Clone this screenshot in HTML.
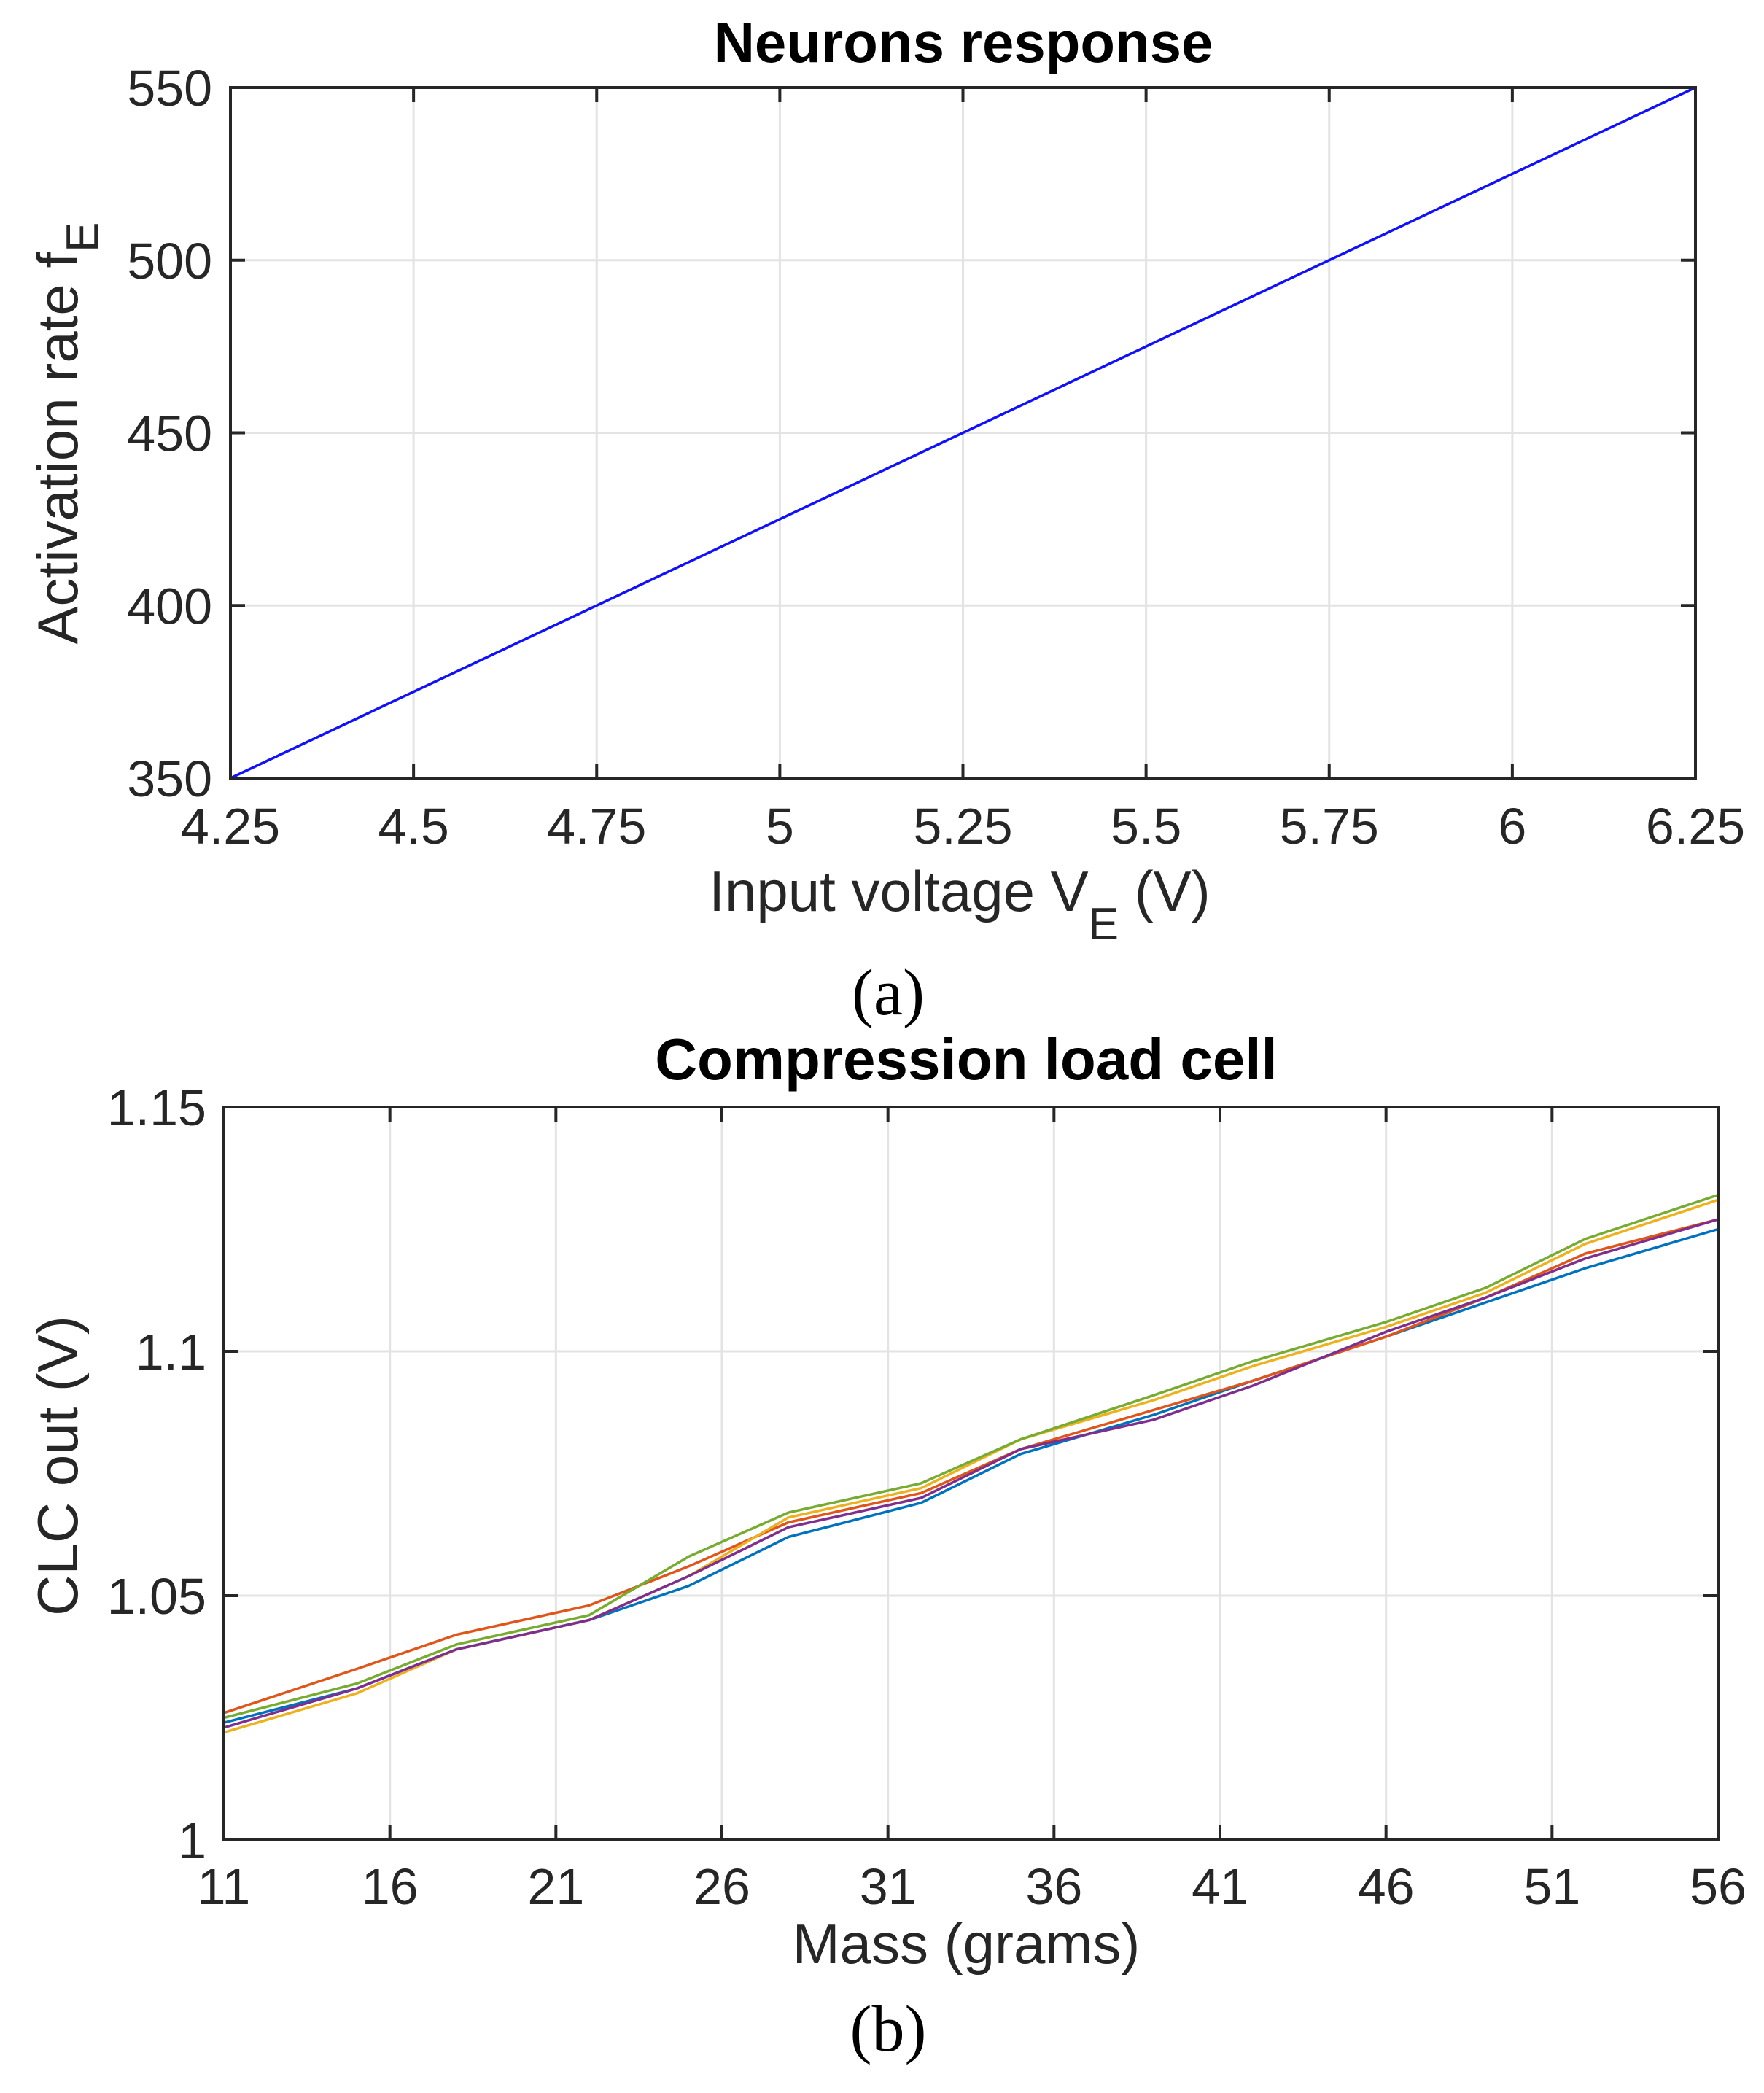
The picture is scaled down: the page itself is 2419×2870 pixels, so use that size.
<!DOCTYPE html>
<html><head><meta charset="utf-8">
<style>
html,body{margin:0;padding:0;background:#fff;}
svg{display:block;}
text{font-family:"Liberation Sans",sans-serif;}
</style></head>
<body>
<svg width="2419" height="2870" viewBox="0 0 2419 2870" xmlns="http://www.w3.org/2000/svg">
<rect width="2419" height="2870" fill="#fff"/>
<g id="chartA"></g>
<g id="chartB"></g>
<text x="1218" y="1391" font-size="90" text-anchor="middle" style="font-family:'Liberation Serif',serif">(a)</text>
<text x="1218" y="2812" font-size="90" text-anchor="middle" style="font-family:'Liberation Serif',serif">(b)</text>
</svg>
<script>
// Chart A data
const aXTicks = [4.25, 4.5, 4.75, 5, 5.25, 5.5, 5.75, 6, 6.25];
const aXTickLabels = ["4.25","4.5","4.75","5","5.25","5.5","5.75","6","6.25"];
const aYTicks = [350, 400, 450, 500, 550];
const aYTickLabels = ["350","400","450","500","550"];
const aVoltage = [4.25, 6.25];
const aRate = [350, 550];

// Chart B data
const bXTicks = [11,16,21,26,31,36,41,46,51,56];
const bXTickLabels = ["11","16","21","26","31","36","41","46","51","56"];
const bYTicks = [1, 1.05, 1.1, 1.15];
const bYTickLabels = ["1","1.05","1.1","1.15"];
const bMass = [11,15,18,22,25,28,32,35,39,42,46,49,52,56];
const bSeries1 = [1.024,1.031,1.039,1.045,1.052,1.062,1.069,1.079,1.087,1.094,1.103,1.110,1.117,1.125];
const bSeries2 = [1.026,1.035,1.042,1.048,1.056,1.065,1.071,1.080,1.088,1.094,1.103,1.111,1.120,1.127];
const bSeries3 = [1.022,1.030,1.039,1.045,1.054,1.066,1.072,1.082,1.090,1.097,1.105,1.112,1.122,1.131];
const bSeries4 = [1.023,1.031,1.039,1.045,1.054,1.064,1.070,1.080,1.086,1.093,1.104,1.111,1.119,1.127];
const bSeries5 = [1.025,1.032,1.040,1.046,1.058,1.067,1.073,1.082,1.091,1.098,1.106,1.113,1.123,1.132];

const NS = "http://www.w3.org/2000/svg";
function mk(parent, tag, attrs, txt){
  const e = document.createElementNS(NS, tag);
  for (const k in attrs) e.setAttribute(k, attrs[k]);
  if (txt !== undefined) e.textContent = txt;
  parent.appendChild(e);
  return e;
}

function drawAxes(g, box, xd, yd, xt, xl, yt, yl){
  const sx = v => box.l + (v - xd[0]) / (xd[1] - xd[0]) * (box.r - box.l);
  const sy = v => box.b - (v - yd[0]) / (yd[1] - yd[0]) * (box.b - box.t);
  xt.forEach(v => {
    const ln = mk(g, "line", {x1:sx(v), x2:sx(v), y1:box.t, y2:box.b, stroke:"#e3e3e3", "stroke-width":3});
    
    
  });
  yt.forEach(v => {
    const ln = mk(g, "line", {x1:box.l, x2:box.r, y1:sy(v), y2:sy(v), stroke:"#e3e3e3", "stroke-width":3});
    
    
  });
  return {sx, sy};
}

function drawFrame(g, box, sx, sy, xt, xl, yt, yl, tickY, labelX){
  const fr = mk(g, "rect", {x:box.l, y:box.t, width:box.r-box.l, height:box.b-box.t, fill:"none", stroke:"#262626", "stroke-width":4});
  
  
  xt.forEach((v,i) => {
    const x = sx(v);
    mk(g, "line", {x1:x, x2:x, y1:box.b, y2:box.b-20, stroke:"#262626", "stroke-width":4});
    mk(g, "line", {x1:x, x2:x, y1:box.t, y2:box.t+20, stroke:"#262626", "stroke-width":4});
    const t = mk(g, "text", {x:x, y:tickY, "font-size":70, "text-anchor":"middle", fill:"#262626"}, xl[i]);
    
    
  });
  yt.forEach((v,i) => {
    const y = sy(v);
    mk(g, "line", {x1:box.l, x2:box.l+20, y1:y, y2:y, stroke:"#262626", "stroke-width":4});
    mk(g, "line", {x1:box.r, x2:box.r-20, y1:y, y2:y, stroke:"#262626", "stroke-width":4});
    const t = mk(g, "text", {x:labelX, y:y+25, "font-size":70, "text-anchor":"end", fill:"#262626"}, yl[i]);
    
    
  });
}

// ---- Chart A ----
const gA = document.getElementById("chartA");
const boxA = {l:316, r:2325, t:120, b:1067};
const axA = drawAxes(gA, boxA, [4.25,6.25], [350,550], aXTicks, aXTickLabels, aYTicks, aYTickLabels);
const lineA = mk(gA, "polyline", {points: aVoltage.map((v,i)=>axA.sx(v)+","+axA.sy(aRate[i])).join(" "), fill:"none", stroke:"#1010ff", "stroke-width":3.5});


drawFrame(gA, boxA, axA.sx, axA.sy, aXTicks, aXTickLabels, aYTicks, aYTickLabels, 1157, 291);
const tA = mk(gA, "text", {x:1321, y:85, "font-size":78, "font-weight":"bold", "text-anchor":"middle", fill:"#000"}, "Neurons response");


const xlA = mk(gA, "text", {x:1316, y:1249, "font-size":78, "text-anchor":"middle", fill:"#262626"});


mk(xlA, "tspan", {}, "Input voltage V");
mk(xlA, "tspan", {dy:39, "font-size":62}, "E");
mk(xlA, "tspan", {dy:-39}, " (V)");
const ylA = mk(gA, "text", {x:0, y:0, "font-size":78, "text-anchor":"middle", fill:"#262626", transform:"translate(106,594) rotate(-90)"});


mk(ylA, "tspan", {}, "Activation rate f");
mk(ylA, "tspan", {dy:28, "font-size":62}, "E");

// ---- Chart B ----
const gB = document.getElementById("chartB");
const boxB = {l:307, r:2356, t:1518, b:2523};
const axB = drawAxes(gB, boxB, [11,56], [1,1.15], bXTicks, bXTickLabels, bYTicks, bYTickLabels);
const bAll = [bSeries1, bSeries2, bSeries3, bSeries4, bSeries5];
const bColors = ["#0072BD","#E0561A","#EDB120","#7E2F8E","#77AC30"];
bAll.forEach((s, k) => {
  const pl = mk(gB, "polyline", {points: bMass.map((m,i)=>axB.sx(m)+","+axB.sy(s[i])).join(" "), fill:"none", stroke:bColors[k], "stroke-width":3.5, "stroke-linejoin":"round"});
  
  
});
drawFrame(gB, boxB, axB.sx, axB.sy, bXTicks, bXTickLabels, bYTicks, bYTickLabels, 2611, 283);
const tB = mk(gB, "text", {x:1325, y:1480, "font-size":80, "font-weight":"bold", "text-anchor":"middle", fill:"#000"}, "Compression load cell");


const xlB = mk(gB, "text", {x:1325, y:2692, "font-size":78, "text-anchor":"middle", fill:"#262626"}, "Mass (grams)");


const ylB = mk(gB, "text", {x:0, y:0, "font-size":78, "text-anchor":"middle", fill:"#262626", transform:"translate(106,2010) rotate(-90)"}, "CLC out (V)");


</script>
</body></html>
